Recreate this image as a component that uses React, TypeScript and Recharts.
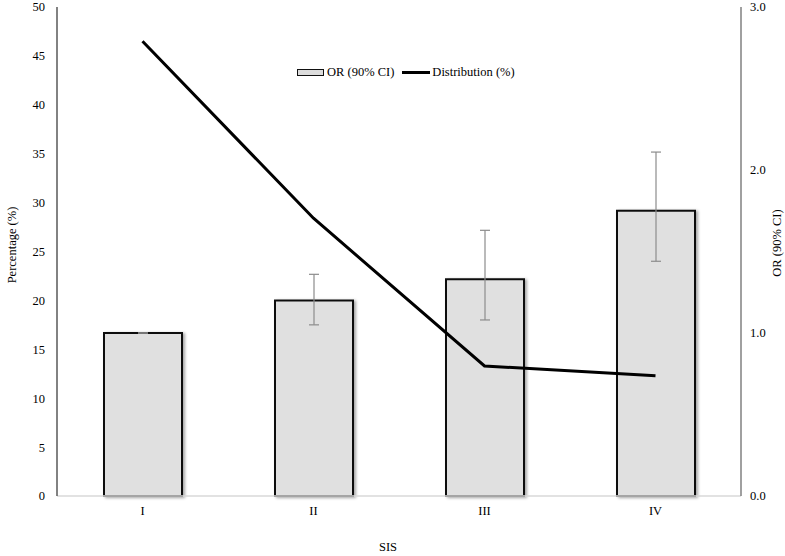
import React from "react";
import {
  Bar,
  ComposedChart,
  ErrorBar,
  Line,
  Rectangle,
  XAxis,
  YAxis,
} from "recharts";

// SIS stages on the x axis
const stages = ["I", "II", "III", "IV"];
// odds ratio per stage (right axis)
const oddsRatio = [1.0, 1.2, 1.33, 1.75];
// 90% CI bounds
const ciLow = [1.0, 1.05, 1.08, 1.44];
const ciHigh = [1.0, 1.36, 1.63, 2.11];
// distribution of patients, % (left axis)
const distribution = [46.5, 28.4, 13.3, 12.3];

const leftTicks = [0, 5, 10, 15, 20, 25, 30, 35, 40, 45, 50];
const rightTicks = [0, 1, 2, 3];

const FONT = "Liberation Serif, Times New Roman, serif";

const chartData = stages.map((name, i) => ({
  name,
  or: oddsRatio[i],
  err: [oddsRatio[i] - ciLow[i], ciHigh[i] - oddsRatio[i]],
  dist: distribution[i],
}));

const ShadowBar = (props: any) => (
  <Rectangle {...props} filter="url(#barShadow)" />
);

const LegendBox = () => (
  <div
    style={{
      position: "absolute",
      left: 297,
      top: 65,
      display: "flex",
      alignItems: "center",
      fontFamily: FONT,
      fontSize: 12.5,
      color: "#000",
      whiteSpace: "nowrap",
    }}
  >
    <span
      style={{
        display: "inline-block",
        width: 25,
        height: 5,
        background: "#dcdcdc",
        border: "1px solid #111",
        marginRight: 3,
      }}
    />
    <span>OR (90% CI)</span>
    <span
      style={{
        display: "inline-block",
        width: 28,
        height: 3,
        background: "#000",
        marginLeft: 8,
        marginRight: 2,
      }}
    />
    <span>Distribution (%)</span>
  </div>
);

const App = () => {
  return (
    <div style={{ position: "absolute", left: 0, top: 0, width: 785, height: 556 }}>
      <ComposedChart
        width={785}
        height={556}
        data={chartData}
        margin={{ top: 7, right: 0, left: 0, bottom: 0 }}
        barCategoryGap="27%"
      >
        <defs>
          <filter id="barShadow" x="-10%" y="-5%" width="130%" height="115%">
            <feDropShadow dx="2" dy="1" stdDeviation="1.5" floodColor="#000" floodOpacity="0.35" />
          </filter>
        </defs>
        <XAxis
          dataKey="name"
          height={60}
          axisLine={{ stroke: "#d9d9d9", strokeWidth: 1.5 }}
          tickLine={false}
          tickSize={0}
          tickMargin={10}
          tick={{ fontFamily: FONT, fontSize: 12.5, fill: "#000" }}
        />
        <YAxis
          yAxisId="left"
          width={57}
          domain={[0, 50]}
          ticks={leftTicks}
          interval={0}
          axisLine={{ stroke: "#595959", strokeWidth: 1.5 }}
          tickLine={false}
          tickSize={4}
          tickMargin={8}
          tick={{ fontFamily: FONT, fontSize: 12.5, fill: "#000" }}
        />
        <YAxis
          yAxisId="right"
          orientation="right"
          width={44}
          domain={[0, 3]}
          ticks={rightTicks}
          interval={0}
          tickFormatter={(v: number) => v.toFixed(1)}
          axisLine={{ stroke: "#808080", strokeWidth: 1.5 }}
          tickLine={false}
          tickSize={2}
          tickMargin={7}
          tick={{ fontFamily: FONT, fontSize: 12.5, fill: "#000", textAnchor: "start" }}
        />
        <Bar
          yAxisId="right"
          dataKey="or"
          name="OR (90% CI)"
          fill="#e0e0e0"
          stroke="#111"
          strokeWidth={2}
          barSize={78}
          shape={ShadowBar}
          isAnimationActive={false}
        >
          <ErrorBar dataKey="err" width={5} stroke="#8c8c8c" strokeWidth={1.2} />
        </Bar>
        <Line
          yAxisId="left"
          type="linear"
          dataKey="dist"
          name="Distribution (%)"
          stroke="#000"
          strokeWidth={3}
          dot={false}
          activeDot={false}
          isAnimationActive={false}
        />
      </ComposedChart>
      <LegendBox />
      <div
        style={{
          position: "absolute",
          left: 12,
          top: 245,
          transform: "translate(-50%, -50%) rotate(-90deg)",
          fontFamily: FONT,
          fontSize: 12.5,
          whiteSpace: "nowrap",
        }}
      >
        Percentage (%)
      </div>
      <div
        style={{
          position: "absolute",
          left: 777,
          top: 243,
          transform: "translate(-50%, -50%) rotate(-90deg)",
          fontFamily: FONT,
          fontSize: 12.5,
          whiteSpace: "nowrap",
        }}
      >
        OR (90% CI)
      </div>
      <div
        style={{
          position: "absolute",
          left: 388,
          top: 547,
          transform: "translate(-50%, -50%)",
          fontFamily: FONT,
          fontSize: 12.5,
          whiteSpace: "nowrap",
        }}
      >
        SIS
      </div>
    </div>
  );
};

export default App;
